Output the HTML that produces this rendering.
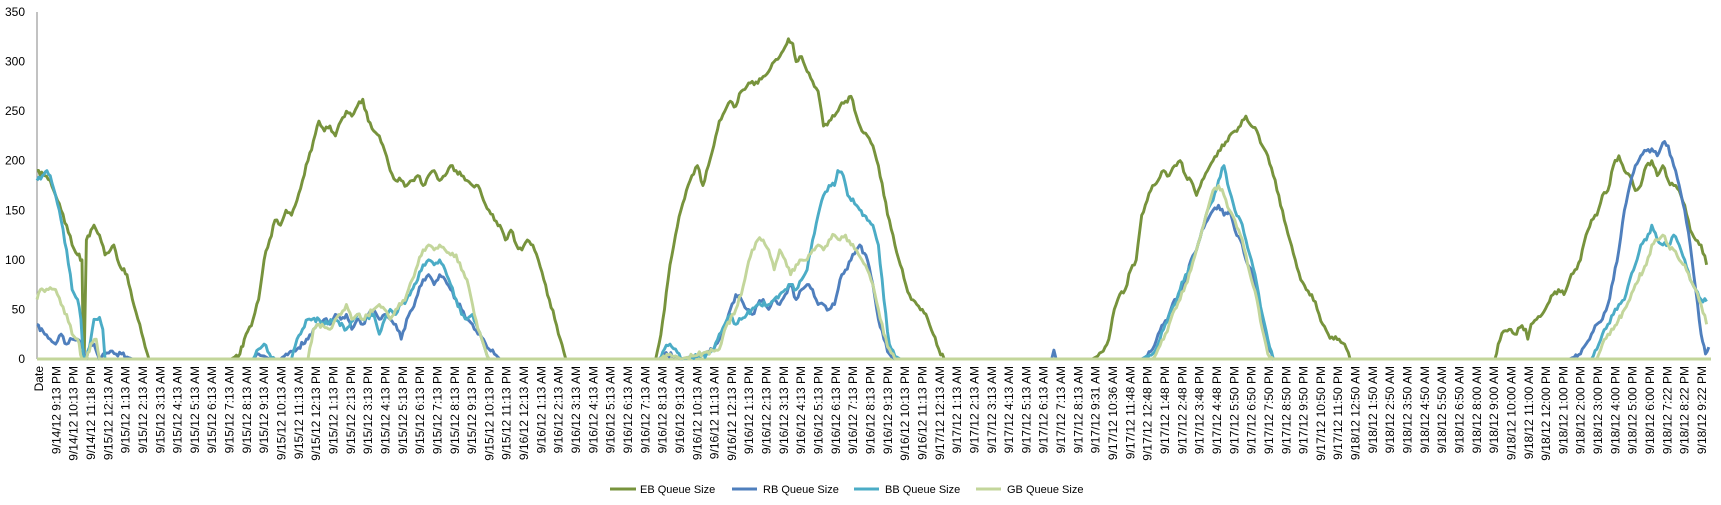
<!DOCTYPE html>
<html><head><meta charset="utf-8"><style>
html,body{margin:0;padding:0;background:#fff;}
svg{display:block;font-family:"Liberation Sans",Arial,sans-serif;}
</style></head><body>
<svg id="c" width="1721" height="505" viewBox="0 0 1721 505" xmlns="http://www.w3.org/2000/svg">
<defs><clipPath id="lc"><rect x="0" y="362" width="1721" height="100"/></clipPath></defs>
<g id="yl" font-size="12" fill="#000" text-anchor="end"></g>
<line x1="37" y1="12" x2="37" y2="359" stroke="#868686" stroke-width="1"/>
<line x1="37" y1="359" x2="1711" y2="359" stroke="#868686" stroke-width="1"/>
<g id="xl" font-size="12" fill="#000" clip-path="url(#lc)"></g>
<g id="series" fill="none" stroke-width="2.9" stroke-linejoin="round"></g>
<g font-size="11" fill="#000">
<line x1="610" y1="489" x2="636" y2="489" stroke="#77933C" stroke-width="3"/><text x="640" y="493">EB Queue Size</text>
<line x1="732" y1="489" x2="757" y2="489" stroke="#4F7FBD" stroke-width="3"/><text x="763" y="493">RB Queue Size</text>
<line x1="854" y1="489" x2="879" y2="489" stroke="#4BACC6" stroke-width="3"/><text x="885" y="493">BB Queue Size</text>
<line x1="976" y1="489" x2="1001" y2="489" stroke="#C3D69B" stroke-width="3"/><text x="1007" y="493">GB Queue Size</text>
</g>
</svg>
<script>
var NS="http://www.w3.org/2000/svg";
function el(t,a,p,txt){var e=document.createElementNS(NS,t);for(var k in a)e.setAttribute(k,a[k]);if(txt)e.textContent=txt;p.appendChild(e);return e;}
var yl=document.getElementById('yl');
for(var v=0;v<=350;v+=50){el('text',{x:25,y:359-v*0.9914+4},yl,String(v));}
var labels=["Date","9/14/12 9:13 PM","9/14/12 10:13 PM","9/14/12 11:18 PM"];
function hrs(d,list){list.forEach(function(h){labels.push(d+" "+h);});}
var day=["12:13 AM","1:13 AM","2:13 AM","3:13 AM","4:13 AM","5:13 AM","6:13 AM","7:13 AM","8:13 AM","9:13 AM","10:13 AM","11:13 AM","12:13 PM","1:13 PM","2:13 PM","3:13 PM","4:13 PM","5:13 PM","6:13 PM","7:13 PM","8:13 PM","9:13 PM","10:13 PM","11:13 PM"];
hrs("9/15/12",day);hrs("9/16/12",day);
hrs("9/17/12",["12:13 AM","1:13 AM","2:13 AM","3:13 AM","4:13 AM","5:13 AM","6:13 AM","7:13 AM","8:13 AM","9:31 AM","10:36 AM","11:48 AM","12:48 PM","1:48 PM","2:48 PM","3:48 PM","4:48 PM","5:50 PM","6:50 PM","7:50 PM","8:50 PM","9:50 PM","10:50 PM","11:50 PM"]);
hrs("9/18/12",["12:50 AM","1:50 AM","2:50 AM","3:50 AM","4:50 AM","5:50 AM","6:50 AM","8:00 AM","9:00 AM","10:00 AM","11:00 AM","12:00 PM","1:00 PM","2:00 PM","3:00 PM","4:00 PM","5:00 PM","6:00 PM","7:22 PM","8:22 PM","9:22 PM"]);
var xl=document.getElementById('xl');
var step=(1702-39)/(labels.length-1);
labels.forEach(function(s,i){var x=39+i*step+4;el('text',{x:0,y:0,'text-anchor':'end',transform:'translate('+x.toFixed(1)+',366) rotate(-90)'},xl,s);});
function P(s){var a=s.trim().split(/\s*,\s*/),o=[];a.forEach(function(p){var q=p.split(':');o.push([+q[0],+q[1]]);});return o;}
var EB=P("33:190,40:185,45:180,50:165,55:150,60:135,65:115,70:105,74:100,75:20,76:0,78:120,85:135,90:125,95:105,100:110,103:115,108:95,115:85,120:60,125:40,130:20,135:0,210:0,218:5,222:20,230:40,235:60,240:100,245:120,250:140,255:135,260:150,265:145,270:160,275:180,280:200,285:220,290:240,295:230,300:235,305:225,310:240,315:250,320:245,325:255,330:262,335:240,340:230,345:225,350:210,355:190,360:180,365:180,370:175,375:180,380:185,385:175,390:185,395:190,400:180,405:185,410:195,415:190,420:185,425:180,430:175,435:175,440:160,445:150,450:140,455:135,460:120,465:130,470:115,475:110,480:120,485:115,490:100,495:80,500:60,505:40,510:20,515:0,597:0,600:15,605:50,610:95,615:125,620:150,625:170,630:185,635:195,640:175,645:195,650:215,655:240,660:250,665:260,670:255,675:270,680:275,685:280,690:278,695:285,700:290,705:300,710:305,715:315,718:323,722:318,725:300,730:305,735:290,740:280,745:270,750:235,755:240,760:245,765:255,770:260,775:265,780:245,785:230,790:225,795:215,800:195,805:165,810:140,815:115,820:95,825:75,830:60,835:55,840:50,845:40,850:25,855:10,860:0,995:0,1000:3,1005:8,1010:20,1015:50,1020:65,1025:70,1030:90,1035:100,1040:145,1045:160,1050:175,1055:180,1060:190,1065:185,1070:195,1075:200,1080:185,1085:180,1090:165,1095:180,1100:190,1105:200,1110:210,1115:215,1120:225,1125:230,1130:235,1135:245,1140:235,1145:230,1150:215,1155:205,1160:185,1165:165,1170:140,1175:120,1180:100,1185:80,1190:70,1195:65,1200:50,1205:35,1210:25,1215:20,1220:20,1225:15,1230:0,1362:0,1365:15,1370:28,1375:30,1380:25,1385:32,1390:30,1392:20,1395:35,1400:40,1405:45,1410:55,1415:65,1420:70,1425:65,1430:80,1435:90,1440:100,1445:125,1450:140,1455:145,1460:165,1465:170,1470:195,1475:205,1480:190,1485:185,1490:170,1495:175,1500:195,1505:200,1510:185,1515:195,1520:180,1525:175,1530:170,1535:155,1540:130,1545:120,1550:115,1555:95");
var RB=P("33:35,40:25,45:20,50:15,55:25,60:15,65:20,70:20,75:10,78:0,80:10,85:15,88:5,90:0,95:5,100:8,105:5,110:5,115:2,120:0,230:0,235:5,240:3,245:0,255:0,260:5,270:10,280:20,285:30,290:35,295:40,300:35,305:45,310:40,315:45,320:30,325:40,330:35,335:45,340:50,345:40,350:45,355:40,360:35,365:20,370:40,375:50,380:65,385:80,390:85,395:75,400:85,405:80,410:70,415:60,420:50,425:40,430:35,435:25,440:20,445:10,450:5,455:0,600:0,605:5,615:3,620:0,640:5,650:10,655:20,660:30,665:50,670:65,675:60,680:50,685:45,690:55,695:60,700:50,705:60,710:55,715:65,720:75,725:60,730:70,735:75,740:70,745:55,750:55,755:50,760:55,765:80,770:90,775:100,780:110,783:115,790:100,795:75,800:40,805:20,810:5,815:0,958:0,960:9,962:0,1040:0,1045:3,1050:10,1055:25,1060:35,1065:45,1070:60,1075:65,1080:80,1085:100,1090:110,1095:130,1100:140,1105:150,1110:155,1115:145,1120:150,1125:130,1130:120,1135:100,1140:90,1145:65,1150:40,1155:15,1160:0,1430:0,1440:5,1445:15,1450:25,1455:35,1460:40,1465:55,1470:80,1475:110,1480:150,1485:175,1490:195,1495:205,1500:210,1505:212,1510:205,1515:218,1520:215,1525:195,1530:175,1535:150,1540:115,1545:70,1550:25,1554:5,1557:12");
var BB=P("33:180,38:185,42:190,45:185,50:165,55:140,60:110,65:70,70:60,73:40,75:5,78:0,82:20,85:40,90:42,93:30,95:0,230:0,235:10,240:15,245:5,250:0,265:0,270:20,275:30,280:40,290:40,295:35,305:40,315:30,325:45,330:40,340:45,345:25,350:40,355:50,360:45,365:55,370:60,380:80,385:95,390:100,395:95,400:100,405:90,410:75,415:60,420:45,425:40,430:45,435:30,440:15,445:0,600:0,605:10,610:15,615:10,620:0,645:5,650:10,655:25,660:35,665:45,670:35,675:40,680:45,690:55,700:55,710:65,715:70,720:75,725:70,730:80,735:90,740:120,745:145,750:165,755:175,760:175,763:190,768:185,772:165,780:155,790:140,795:135,800:115,805:60,810:15,815:3,820:0,1040:0,1050:5,1055:15,1060:30,1065:45,1070:55,1075:70,1080:85,1085:95,1090:110,1095:130,1100:150,1105:160,1110:180,1115:195,1120:170,1125:150,1130:140,1135:120,1140:100,1145:75,1150:45,1155:20,1160:0,1450:0,1455:10,1460:25,1465:35,1470:45,1475:55,1480:60,1485:80,1490:95,1495:115,1500:120,1505:135,1510:120,1515:115,1520:115,1525:125,1530:115,1535:100,1540:80,1545:70,1550:60,1555:58");
var GB=P("33:60,36:70,40:68,45:72,50:70,55:55,60:45,65:25,70:20,74:0,78:0,82:15,87:20,90:0,280:0,285:30,290:35,300:30,305:40,310:45,315:55,320:40,325:45,330:40,340:50,345:55,350:50,355:40,360:50,365:55,370:65,375:80,380:95,385:110,390:115,395:110,400:115,405:110,410:105,415:105,420:90,425:80,430:55,435:30,440:15,445:0,600:0,610:5,615:3,620:0,655:10,660:30,670:50,675:65,680:90,685:110,690:120,695:120,700:110,705:90,710:110,715:100,720:85,725:95,730:100,735:100,740:110,745:115,750:110,755:120,760:125,765:120,770:125,775:115,780:110,785:100,790:90,795:75,800:50,805:25,810:10,815:0,1050:0,1055:10,1060:20,1065:35,1070:50,1075:60,1080:75,1085:90,1090:110,1095:130,1100:150,1105:170,1110:175,1115:165,1120:150,1125:140,1130:125,1135:105,1140:80,1145:60,1150:30,1155:5,1160:0,1455:0,1460:15,1465:25,1470:30,1480:50,1485:60,1490:75,1500:95,1505:115,1510:120,1515:125,1520:115,1525:110,1530:100,1535:95,1540:80,1545:70,1550:55,1555:35");
function jit(x){return Math.sin(x*1.7)*1.5+Math.sin(x*3.1)*1.2;}
function path(pts){var d="";var prev=null;
  for(var i=0;i<pts.length;i++){
    var a=pts[i];
    if(prev){
      var n=Math.max(1,Math.round((a[0]-prev[0])/1.5));
      for(var k=1;k<=n;k++){var x=prev[0]+(a[0]-prev[0])*k/n;var v=prev[1]+(a[1]-prev[1])*k/n;
        if(!(prev[1]==0&&a[1]==0)&&k<n&&v>2)v+=jit(x);if(v<0)v=0;
        d+=" L"+(37+(x-33)*1.097).toFixed(1)+","+(359-v*0.9914).toFixed(1);}
    }else d="M"+(37+(a[0]-33)*1.097).toFixed(1)+","+(359-a[1]*0.9914).toFixed(1);
    prev=a;}
  return d;}
var g=document.getElementById('series');
el('path',{d:"M37,359 L1711,359",stroke:"#C3D69B"},g);
[[EB,"#77933C"],[RB,"#4F7FBD"],[BB,"#4BACC6"],[GB,"#C3D69B"]].forEach(function(s){
  el('path',{d:path(s[0]),stroke:s[1]},g);});
</script>
</body></html>
